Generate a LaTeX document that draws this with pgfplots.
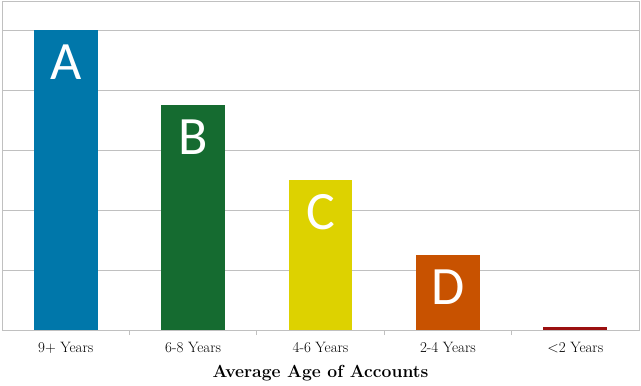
\documentclass[border=0pt]{standalone}
\usepackage{pgfplots}
\pgfplotsset{compat=1.18}
\usepackage{fontspec}
\newfontfamily\carlito{Carlito}
\definecolor{cA}{RGB}{0,119,170}
\definecolor{cB}{RGB}{21,107,48}
\definecolor{cC}{RGB}{221,210,0}
\definecolor{cD}{RGB}{200,82,0}
\definecolor{cE}{RGB}{155,16,16}
\definecolor{gridc}{RGB}{192,192,192}
\begin{document}
\begin{tikzpicture}
\path[use as bounding box] (0,0) rectangle (641pt,-386pt);
\begin{axis}[
  at={(2pt,-1pt)}, anchor=north west,
  width=637pt, height=329pt, scale only axis,
  xmin=-0.5, xmax=4.5, ymin=0, ymax=5.483,
  ytick={1,2,3,4,5}, yticklabels={}, ymajorgrids,
  grid style={draw=gridc, line width=0.8pt},
  axis line style={draw=gridc, line width=0.8pt},
  xtick={0,1,2,3,4},
  xticklabels={9+ Years, 6-8 Years, 4-6 Years, 2-4 Years, <2 Years},
  major tick length=0pt,
  minor xtick={0.5,1.5,2.5,3.5}, minor tick length=5pt,
  tick align=outside, xtick pos=bottom, ytick pos=left,
  tick style={draw=gridc, line width=0.8pt},
  xticklabel style={font=\fontsize{15}{17}\selectfont, anchor=base, yshift=-22pt},
  xlabel={\textbf{Average Age of Accounts}},
  xlabel style={font=\fontsize{17.5}{20}\selectfont, at={(axis description cs:0.5,0)}, anchor=base, yshift=-47pt},
  mybar/.style={ybar, bar width=0.5, bar shift=0pt, draw=none, fill=#1},
  lbl/.style={nodes near coords={#1}, every node near coord/.style={anchor=center, yshift=-32pt, text=white, font=\carlito\fontsize{54}{58}\selectfont}},
]
\addplot[mybar=cA, lbl=A] coordinates {(0,5.0)};
\addplot[mybar=cB, lbl=B] coordinates {(1,3.75)};
\addplot[mybar=cC, lbl=C] coordinates {(2,2.5)};
\addplot[mybar=cD, lbl=D] coordinates {(3,1.25)};
\addplot[mybar=cE] coordinates {(4,0.055)};
\end{axis}
\end{tikzpicture}
\end{document}
